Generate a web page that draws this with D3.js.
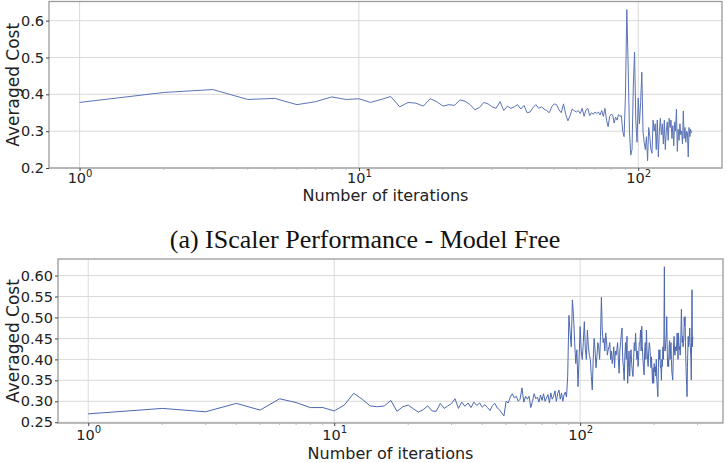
<!DOCTYPE html>
<html><head><meta charset="utf-8">
<script src="https://cdn.jsdelivr.net/npm/d3@7"></script>
<style>body{margin:0;background:#fff}svg{display:block}</style>
</head><body><svg id="c" width="727" height="463"></svg>
<script>
const topIterations = d3.range(1, 156);
const topCost = [
 0.378,0.405,0.413,0.386,0.389,0.372,0.380,0.393,0.386,0.388,
 0.378,0.386,0.394,0.366,0.378,0.376,0.368,0.388,0.380,0.368,
 0.372,0.370,0.385,0.381,0.372,0.358,0.364,0.378,0.374,0.366,
 0.362,0.380,0.356,0.368,0.362,0.366,0.372,0.360,0.370,0.350,
 0.352,0.364,0.372,0.362,0.366,0.360,0.356,0.350,0.366,0.374,
 0.372,0.358,0.350,0.374,0.345,0.328,0.342,0.360,0.356,0.352,
 0.356,0.348,0.362,0.340,0.358,0.362,0.342,0.350,0.346,0.352,
 0.348,0.352,0.344,0.356,0.340,0.362,0.330,0.312,0.340,0.346,
 0.344,0.322,0.338,0.330,0.345,0.340,0.342,0.300,0.285,0.400,
 0.630,0.480,0.300,0.235,0.250,0.420,0.515,0.330,0.270,0.390,
 0.320,0.380,0.460,0.300,0.270,0.250,0.285,0.220,0.310,0.285,
 0.250,0.240,0.330,0.300,0.320,0.250,0.330,0.230,0.300,0.335,
 0.290,0.320,0.265,0.330,0.250,0.300,0.325,0.275,0.335,0.310,
 0.330,0.280,0.315,0.260,0.325,0.300,0.360,0.245,0.305,0.275,
 0.320,0.290,0.300,0.265,0.355,0.280,0.310,0.270,0.300,0.295,
 0.230,0.310,0.285,0.305,0.295];
const bottomIterations = d3.range(1, 288);
const bottomCost = [
 0.270,0.283,0.275,0.295,0.279,0.306,0.297,0.285,0.285,0.277,
 0.291,0.319,0.305,0.289,0.287,0.289,0.302,0.276,0.287,0.291,
 0.282,0.274,0.280,0.289,0.277,0.276,0.295,0.283,0.289,0.295,
 0.306,0.283,0.298,0.288,0.296,0.285,0.298,0.290,0.296,0.286,
 0.292,0.285,0.278,0.290,0.295,0.284,0.280,0.272,0.265,0.300,
 0.296,0.310,0.318,0.308,0.312,0.300,0.305,0.332,0.298,0.312,
 0.305,0.312,0.285,0.300,0.318,0.306,0.310,0.298,0.315,0.302,
 0.318,0.300,0.308,0.316,0.296,0.320,0.305,0.312,0.325,0.300,
 0.318,0.327,0.305,0.320,0.300,0.315,0.322,0.310,
 0.360,0.505,0.465,0.430,0.542,0.502,0.440,0.390,0.423,0.335,0.400,0.478,
 0.420,0.400,0.440,0.490,0.423,0.400,0.470,0.430,0.410,0.400,
 0.360,0.327,0.400,0.450,0.420,0.380,0.406,0.440,0.430,0.400,
 0.455,0.548,0.470,0.440,0.450,0.420,0.463,0.445,0.410,0.423,
 0.430,0.440,0.400,0.420,0.390,0.406,0.430,0.380,0.420,0.410,
 0.423,0.440,0.400,0.367,0.420,0.440,0.460,0.475,0.400,0.380,
 0.350,0.410,0.440,0.400,0.455,0.343,0.380,0.420,0.360,0.400,
 0.423,0.390,0.370,0.359,0.400,0.440,0.420,0.463,0.430,0.400,
 0.420,0.383,0.410,0.440,0.440,0.470,0.420,0.479,0.430,0.400,
 0.380,0.363,0.420,0.440,0.400,0.470,0.423,0.400,0.383,0.420,
 0.440,0.430,0.406,0.380,0.406,0.370,0.343,0.380,0.343,0.390,
 0.370,0.383,0.360,0.400,0.350,0.330,0.311,0.380,0.423,0.400,
 0.423,0.380,0.383,0.350,0.400,0.383,0.430,0.400,0.450,0.621,
 0.420,0.423,0.440,0.460,0.502,0.420,0.383,0.400,0.383,0.430,
 0.445,0.400,0.420,0.440,0.400,0.370,0.360,0.351,0.400,0.440,
 0.455,0.420,0.410,0.430,0.423,0.420,0.440,0.463,0.430,0.400,
 0.463,0.440,0.423,0.430,0.410,0.423,0.470,0.520,0.480,0.440,
 0.455,0.430,0.440,0.450,0.500,0.480,0.502,0.440,0.400,0.360,
 0.340,0.311,0.380,0.420,0.455,0.430,0.440,0.455,0.475,0.440,
 0.420,0.400,0.351,0.455,0.566,0.430,0.455];
const topYTicks = [0.2, 0.3, 0.4, 0.5, 0.6];
const bottomYTicks = [0.25, 0.30, 0.35, 0.40, 0.45, 0.50, 0.55, 0.60];
const xTicks = [1, 10, 100];
const xTickExponents = ["0", "1", "2"];
const minorTicks = [2,3,4,5,6,7,8,9,20,30,40,50,60,70,80,90,200,300];
const yLabel = "Averaged Cost";
const xLabel = "Number of iterations";
const caption = "(a) IScaler Performance - Model Free";

const svg = d3.select("#c");
svg.append("rect").attr("width", 727).attr("height", 463).attr("fill", "#fff");
const FONT = "DejaVu Sans, sans-serif";

function panel(o) {
  const lo = Math.log10(d3.min(o.xs)), hi = Math.log10(d3.max(o.xs));
  const m = 0.05 * (hi - lo);
  const x = d3.scaleLog().domain([Math.pow(10, lo - m), Math.pow(10, hi + m)]).range([o.left, o.right]);
  const y = d3.scaleLinear().domain(o.yDomain).range([o.bottom, o.top]);
  const g = svg.append("g");
  g.selectAll(".hg").data(o.yTicks).join("line")
    .attr("x1", o.left).attr("x2", o.right)
    .attr("y1", d => y(d)).attr("y2", d => y(d))
    .attr("stroke", "#dadada").attr("stroke-width", 1);
  g.selectAll(".vg").data(xTicks).join("line")
    .attr("x1", d => x(d)).attr("x2", d => x(d))
    .attr("y1", o.top).attr("y2", o.bottom)
    .attr("stroke", "#dadada").attr("stroke-width", 1);
  const line = d3.line().x((d, i) => x(o.xs[i])).y(d => y(d));
  g.append("path").datum(o.ys).attr("d", line)
    .attr("fill", "none").attr("stroke", o.color).attr("stroke-width", o.lw)
    .attr("stroke-linejoin", "round");
  g.append("rect").attr("x", o.left).attr("y", o.top)
    .attr("width", o.right - o.left).attr("height", o.bottom - o.top)
    .attr("fill", "none").attr("stroke", "#9a9a9a").attr("stroke-width", 1.3);
  const ya = g.append("g").attr("transform", `translate(${o.left},0)`)
    .call(d3.axisLeft(y).tickValues(o.yTicks).tickSize(3).tickPadding(2).tickFormat(d3.format(o.yFmt)));
  ya.select(".domain").remove();
  ya.selectAll("line").attr("stroke", "#444");
  ya.selectAll("text").attr("font-family", FONT).attr("font-size", o.tickFs).attr("fill", "#222");
  const xa = g.append("g").attr("transform", `translate(0,${o.bottom})`)
    .call(d3.axisBottom(x).tickValues(xTicks).tickSize(3).tickFormat(""));
  xa.select(".domain").remove();
  xa.selectAll("line").attr("stroke", "#444");
  xa.selectAll(".tick text").remove();
  xa.selectAll(".tick").append("text").each(function(d, i) {
    const t = d3.select(this).attr("font-family", FONT).attr("fill", "#222")
      .attr("y", o.xTickBase).attr("text-anchor", "middle");
    t.append("tspan").attr("font-size", o.tickFs).text("10");
    t.append("tspan").attr("font-size", o.tickFs * 0.7).attr("dy", -o.tickFs * 0.42).text(xTickExponents[i]);
  });
  g.selectAll(".mt").data(minorTicks.filter(v => v > x.domain()[0] && v < x.domain()[1])).join("line")
    .attr("x1", d => x(d)).attr("x2", d => x(d))
    .attr("y1", o.bottom).attr("y2", o.bottom + 2)
    .attr("stroke", "#bbb").attr("stroke-width", 1);
  g.append("text").attr("transform", `translate(${o.yLabelX},${(o.top + o.bottom) / 2}) rotate(-90)`)
    .attr("text-anchor", "middle").attr("font-family", FONT).attr("font-size", 17).attr("fill", "#222")
    .text(yLabel);
  g.append("text").attr("x", (o.left + o.right) / 2).attr("y", o.xLabelY)
    .attr("text-anchor", "middle").attr("font-family", FONT).attr("font-size", 16).attr("fill", "#222")
    .text(xLabel);
}

panel({xs: topIterations, ys: topCost, left: 49, right: 722, top: 1.5, bottom: 168,
  yDomain: [0.2, 0.652], yTicks: topYTicks, yFmt: ".1f", tickFs: 14.5, xTickBase: 15,
  yLabelX: 18.5, xLabelY: 201, color: "#5b74b6", lw: 1});
panel({xs: bottomIterations, ys: bottomCost, left: 58, right: 723, top: 259, bottom: 423,
  yDomain: [0.2482, 0.6395], yTicks: bottomYTicks, yFmt: ".2f", tickFs: 14.5, xTickBase: 16.5,
  yLabelX: 18.5, xLabelY: 459, color: "#4c68b0", lw: 1});

svg.append("text").attr("x", 365).attr("y", 248).attr("text-anchor", "middle")
  .attr("font-family", "Liberation Serif, Times New Roman, serif").attr("font-size", 26).attr("fill", "#111")
  .text(caption);
</script></body></html>
